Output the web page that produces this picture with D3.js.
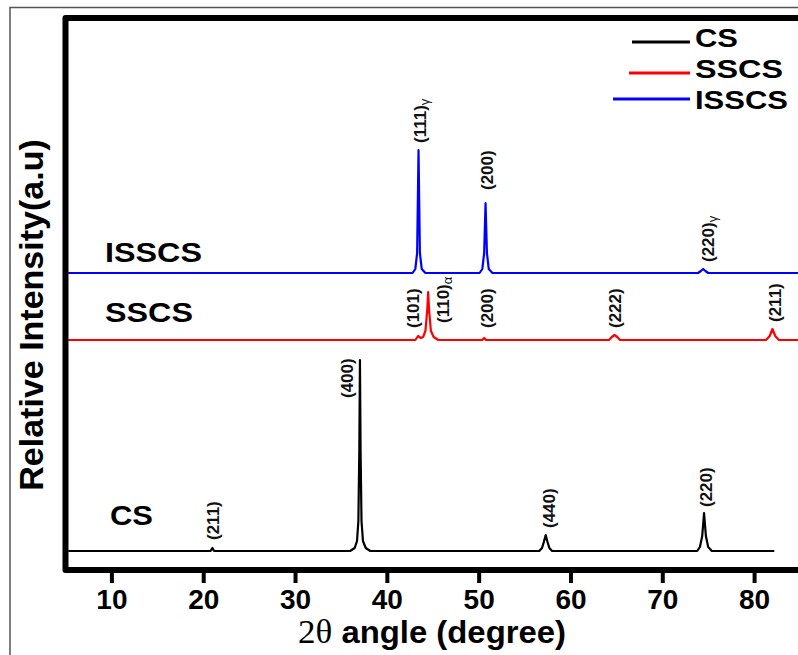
<!DOCTYPE html>
<html>
<head>
<meta charset="utf-8">
<script src="https://cdn.jsdelivr.net/npm/d3@7"></script>
<style>
	body { margin: 0; background: #fff; }
	svg text { font-family: Arial, "Liberation Sans", sans-serif; }
</style>
</head>
<body>
<div id="container"></div>
<script>
// XRD patterns: [2theta (deg), intensity (a.u.)]
var seriesNames = ['CS', 'SSCS', 'ISSCS'];
var seriesColors = ['#000000', '#ff0000', '#0000ff'];
var seriesOffsets = [0, 211, 278]; // stacking shift of each pattern (a.u.)
var xTicks = [10, 20, 30, 40, 50, 60, 70, 80];

var csPattern = [
	[5.3, 0], [20.8, 0], [21.0, 3], [21.2, 0],
	[36.0, 0], [36.5, 3], [36.75, 10], [36.9, 30], [37.0, 100], [37.07, 191],
	[37.14, 100], [37.24, 30], [37.4, 10], [37.7, 3], [38.2, 0],
	[56.6, 0], [56.9, 3], [57.1, 9], [57.3, 16], [57.5, 9], [57.7, 3], [58.0, 0],
	[73.8, 0], [74.1, 4], [74.35, 15], [74.55, 38], [74.75, 15], [75.0, 4], [75.4, 0],
	[82.2, 0]
];
var sscsPattern = [
	[5.3, 0], [43.1, 0], [43.4, 4], [43.7, 2], [43.95, 3], [44.2, 9], [44.4, 30],
	[44.5, 48], [44.6, 30], [44.8, 9], [45.1, 3], [45.6, 0],
	[50.4, 0], [50.6, 2], [50.8, 0],
	[64.2, 0], [64.5, 3], [64.8, 5], [65.1, 3], [65.4, 0],
	[81.3, 0], [81.7, 4], [82.0, 11], [82.3, 4], [82.7, 0],
	[85.5, 0]
];
var isscsPattern = [
	[5.3, 0], [42.8, 0], [43.1, 4], [43.3, 20], [43.45, 123], [43.6, 20], [43.8, 4], [44.2, 0],
	[50.1, 0], [50.4, 4], [50.6, 20], [50.75, 70], [50.9, 20], [51.1, 4], [51.5, 0],
	[73.9, 0], [74.2, 2], [74.45, 4], [74.7, 2], [75.0, 0],
	[85.5, 0]
];
var patterns = [csPattern, sscsPattern, isscsPattern];

// reflection labels: where they sit (2theta) and their foot (a.u. above own baseline)
var csPeaks = [
	{hkl: '(211)', phase: '', at: 21.0, base: 11},
	{hkl: '(400)', phase: '', at: 35.65, base: 153},
	{hkl: '(440)', phase: '', at: 57.7, base: 23},
	{hkl: '(220)', phase: '', at: 74.8, base: 44}
];
var sscsPeaks = [
	{hkl: '(101)', phase: '', at: 42.85, base: 12},
	{hkl: '(110)', phase: 'α', at: 46.1, base: 17},
	{hkl: '(200)', phase: '', at: 50.9, base: 12},
	{hkl: '(222)', phase: '', at: 64.85, base: 12},
	{hkl: '(211)', phase: '', at: 82.25, base: 18}
];
var isscsPeaks = [
	{hkl: '(111)', phase: 'γ', at: 43.6, base: 130},
	{hkl: '(200)', phase: '', at: 50.9, base: 83},
	{hkl: '(220)', phase: 'γ', at: 74.95, base: 11}
];
var peakLabels = [csPeaks, sscsPeaks, isscsPeaks];

var width = 798, height = 655;
var frame = {left: 65.5, top: 18, bottom: 570, right: 805};

var svg = d3.select('div#container')
	.append('svg')
	.attr('width', width)
	.attr('height', height);

// thin grey border of the original picture
svg.append('rect')
	.attr('x', 10)
	.attr('y', 7.5)
	.attr('width', 820)
	.attr('height', 700)
	.attr('fill', 'none')
	.attr('stroke', '#555')
	.attr('stroke-width', 1.5);

var x = d3.scaleLinear().domain([5, 85]).range([frame.left, 800]);
var y = d3.scaleLinear().domain([-19, 533]).range([frame.bottom, frame.top]);

svg.append('defs').append('clipPath')
	.attr('id', 'plotclip')
	.append('rect')
	.attr('x', frame.left)
	.attr('y', frame.top)
	.attr('width', frame.right - frame.left)
	.attr('height', frame.bottom - frame.top);

var plot = svg.append('g').attr('clip-path', 'url(#plotclip)');

patterns.forEach(function(p, i) {
	var line = d3.line()
		.x(d => x(d[0]))
		.y(d => y(d[1] + seriesOffsets[i]));
	plot.append('path')
		.datum(p)
		.attr('d', line)
		.attr('fill', 'none')
		.attr('stroke', seriesColors[i])
		.attr('stroke-width', 2.2)
		.attr('stroke-linejoin', 'round');
});

// hkl labels, written bottom-to-top
peakLabels.forEach(function(list, i) {
	var t = svg.selectAll(null)
		.data(list)
		.join('text')
		.attr('transform', d => 'translate(' + x(d.at) + ',' + y(d.base + seriesOffsets[i]) + ') rotate(-90)')
		.attr('dy', '0.36em')
		.attr('font-size', '17px')
		.attr('font-weight', 'bold')
		.attr('fill', '#111');
	t.append('tspan').text(d => d.hkl);
	t.filter(d => d.phase).append('tspan')
		.attr('font-size', '13px')
		.attr('font-weight', 'normal')
		.attr('dy', '3')
		.text(d => d.phase);
});

// series names next to their baselines
var nameSpots = [
	{x: 110, y: 525, len: 43},
	{x: 105, y: 322, len: 88},
	{x: 105, y: 262, len: 97}
];
seriesNames.forEach(function(name, i) {
	svg.append('text')
		.attr('x', nameSpots[i].x)
		.attr('y', nameSpots[i].y)
		.attr('font-size', '28px')
		.attr('font-weight', 'bold')
		.attr('textLength', nameSpots[i].len)
		.attr('lengthAdjust', 'spacingAndGlyphs')
		.text(name);
});

// frame
svg.append('path')
	.attr('d', 'M' + frame.right + ',' + frame.top + 'H' + frame.left + 'V' + frame.bottom + 'H' + frame.right)
	.attr('fill', 'none')
	.attr('stroke', '#000')
	.attr('stroke-width', 6)
	.attr('stroke-linejoin', 'round');

var xAxis = svg.append('g')
	.attr('transform', 'translate(0,' + frame.bottom + ')')
	.call(d3.axisBottom(x).tickValues(xTicks).tickSize(13).tickPadding(6).tickFormat(d3.format('d')));
xAxis.select('.domain').remove();
xAxis.selectAll('.tick line')
	.attr('stroke', '#000')
	.attr('stroke-width', 4);
xAxis.selectAll('.tick text')
	.attr('fill', '#000')
	.attr('font-family', 'Arial, "Liberation Sans", sans-serif')
	.attr('font-size', '28px')
	.attr('font-weight', 'bold');

// axis titles
var xTitle = svg.append('text')
	.attr('x', 298)
	.attr('y', 643)
	.attr('font-size', '31px')
	.attr('font-weight', 'bold')
	.attr('textLength', 268)
	.attr('lengthAdjust', 'spacingAndGlyphs');
xTitle.append('tspan')
	.attr('font-family', '"Liberation Serif", "Times New Roman", serif')
	.attr('font-weight', 'normal')
	.attr('font-size', '33px')
	.text('2θ');
xTitle.append('tspan').text(' angle (degree)');

svg.append('text')
	.attr('transform', 'translate(43,315) rotate(-90)')
	.attr('text-anchor', 'middle')
	.attr('font-size', '34px')
	.attr('font-weight', 'bold')
	.text('Relative Intensity(a.u)');

// legend
var legendRows = [
	{x1: 632, y: 42, base: 47, len: 43},
	{x1: 629, y: 73, base: 78, len: 88},
	{x1: 613, y: 99, base: 109, len: 93}
];
var legend = svg.append('g');
seriesNames.forEach(function(name, i) {
	legend.append('line')
		.attr('x1', legendRows[i].x1)
		.attr('x2', 690)
		.attr('y1', legendRows[i].y)
		.attr('y2', legendRows[i].y)
		.attr('stroke', seriesColors[i])
		.attr('stroke-width', 3);
	legend.append('text')
		.attr('x', 695)
		.attr('y', legendRows[i].base)
		.attr('font-size', '26px')
		.attr('font-weight', 'bold')
		.attr('textLength', legendRows[i].len)
		.attr('lengthAdjust', 'spacingAndGlyphs')
		.text(name);
});
</script>
</body>
</html>
